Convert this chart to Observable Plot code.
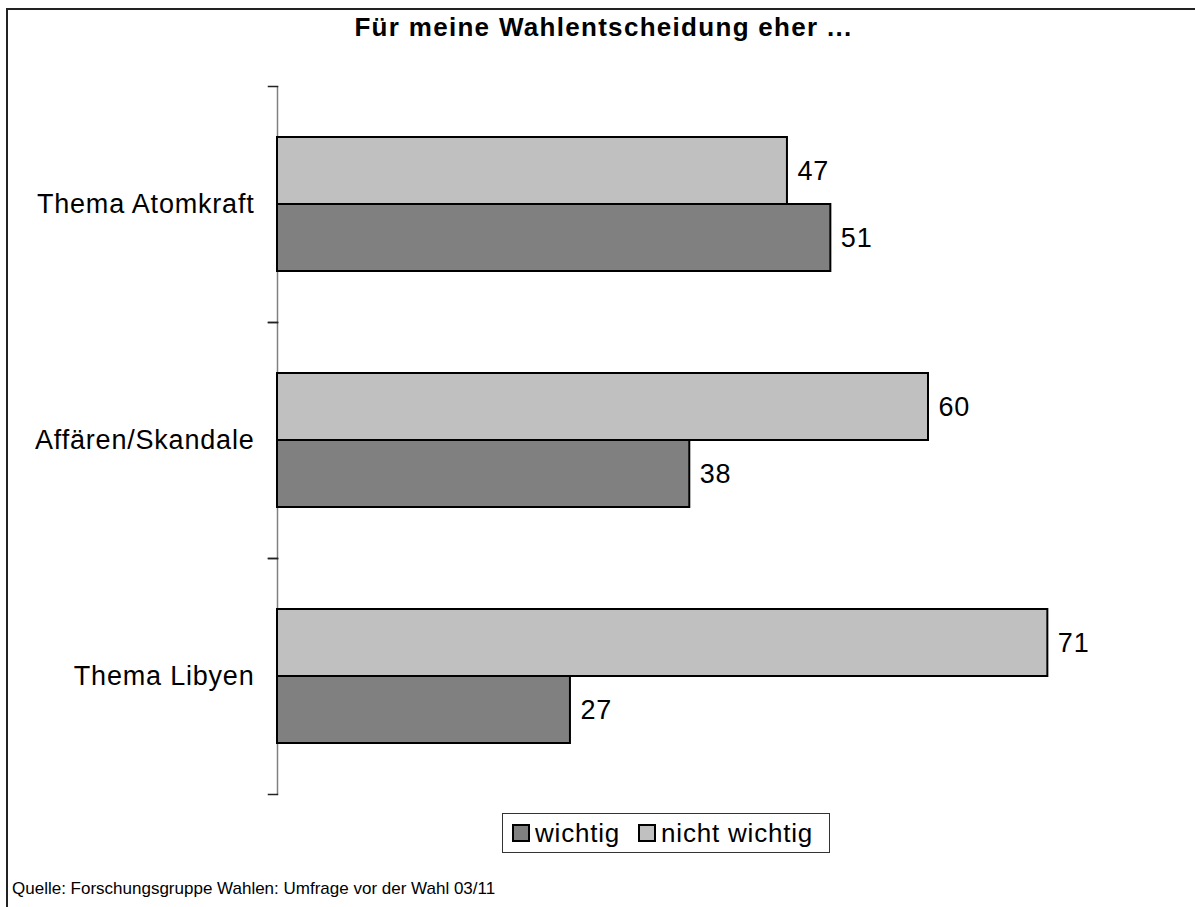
<!DOCTYPE html>
<html>
<head>
<meta charset="utf-8">
<script src="https://cdn.jsdelivr.net/npm/d3@7"></script>
<script src="https://cdn.jsdelivr.net/npm/@observablehq/plot@0.6"></script>
<style>
  body { margin: 0; background: #fff; }
  #wrap { position: relative; width: 1195px; height: 907px; overflow: hidden; font-family: "Liberation Sans", Arial, sans-serif; color: #000; background: #fff; }
  #border { position: absolute; left: 6px; top: 8px; width: 1400px; height: 1100px; border-top: 2px solid #222; border-left: 2px solid #222; }
  #chart { position: absolute; left: 0; top: 0; }
  #chart svg text { letter-spacing: 0.8px; }
  #title { position: absolute; left: 0; top: 15px; width: 1207px; text-align: center; font-weight: bold; font-size: 26px; line-height: 25px; letter-spacing: 1.3px; white-space: nowrap; }
  #legend { position: absolute; left: 502px; top: 813px; width: 326px; height: 38px; border: 1px solid #333; display: flex; align-items: center; font-size: 26px; letter-spacing: 0.8px; white-space: nowrap; }
  .item { display: flex; align-items: center; margin-left: 9px; }
  .item + .item { margin-left: 18px; }
  .sw { width: 14px; height: 14px; border: 2px solid #000; margin-right: 5px; }
  #caption { position: absolute; left: 12px; top: 880px; font-size: 17px; line-height: 17px; white-space: nowrap; }
</style>
</head>
<body>
<div id="wrap">
  <div id="border"></div>
  <div id="chart"></div>
  <div id="title"></div>
  <div id="legend"></div>
  <div id="caption"></div>
</div>
<script>
const titleText = "Für meine Wahlentscheidung eher ...";
const captionText = "Quelle: Forschungsgruppe Wahlen: Umfrage vor der Wahl 03/11";
const categories = ["Thema Atomkraft", "Affären/Skandale", "Thema Libyen"];
const seriesDrawOrder = ["nicht wichtig", "wichtig"];
const legendOrder = ["wichtig", "nicht wichtig"];
const wichtig = [51, 38, 27];
const nichtWichtig = [47, 60, 71];
const seriesColors = { "wichtig": "#808080", "nicht wichtig": "#C0C0C0" };

const rows = [];
categories.forEach((c, i) => {
  rows.push({ category: c, series: "nicht wichtig", value: nichtWichtig[i] });
  rows.push({ category: c, series: "wichtig", value: wichtig[i] });
});

const W = 1195, H = 810, mL = 277, mR = 50;
const innerW = W - mL - mR;

const plot = Plot.plot({
  width: W,
  height: H,
  marginTop: 85,
  marginBottom: 15,
  marginLeft: mL,
  marginRight: mR,
  style: { fontFamily: "'Liberation Sans', Arial, sans-serif", fontSize: "27px", background: "transparent", overflow: "visible", color: "#000" },
  facet: { data: rows, y: "category", marginLeft: mL, marginRight: mR },
  fy: { domain: categories, padding: 0, axis: "left", label: null, tickSize: 0, tickPadding: 23 },
  y: { domain: seriesDrawOrder, axis: null, paddingInner: 0, paddingOuter: 0.75 },
  x: { domain: [0, 80], axis: null },
  color: { domain: seriesDrawOrder, range: seriesDrawOrder.map(s => seriesColors[s]) },
  marks: [
    Plot.ruleX([0], { stroke: "#808080", strokeWidth: 1.5 }),
    Plot.frame({ anchor: "top", stroke: "#222", strokeWidth: 1.5, insetLeft: -9, insetRight: innerW }),
    Plot.frame({ anchor: "bottom", stroke: "#222", strokeWidth: 1.5, insetLeft: -9, insetRight: innerW }),
    Plot.barX(rows, { x: "value", y: "series", fill: "series", stroke: "#000", strokeWidth: 2 }),
    Plot.text(rows, { x: "value", y: "series", text: d => String(d.value), textAnchor: "start", dx: 10, fontSize: 27, fill: "#000" })
  ]
});
document.getElementById("chart").appendChild(plot);

document.getElementById("title").textContent = titleText;
document.getElementById("caption").textContent = captionText;
const legend = document.getElementById("legend");
legendOrder.forEach(s => {
  const item = document.createElement("div");
  item.className = "item";
  const sw = document.createElement("div");
  sw.className = "sw";
  sw.style.background = seriesColors[s];
  const label = document.createElement("span");
  label.textContent = s;
  item.appendChild(sw);
  item.appendChild(label);
  legend.appendChild(item);
});
</script>
</body>
</html>
